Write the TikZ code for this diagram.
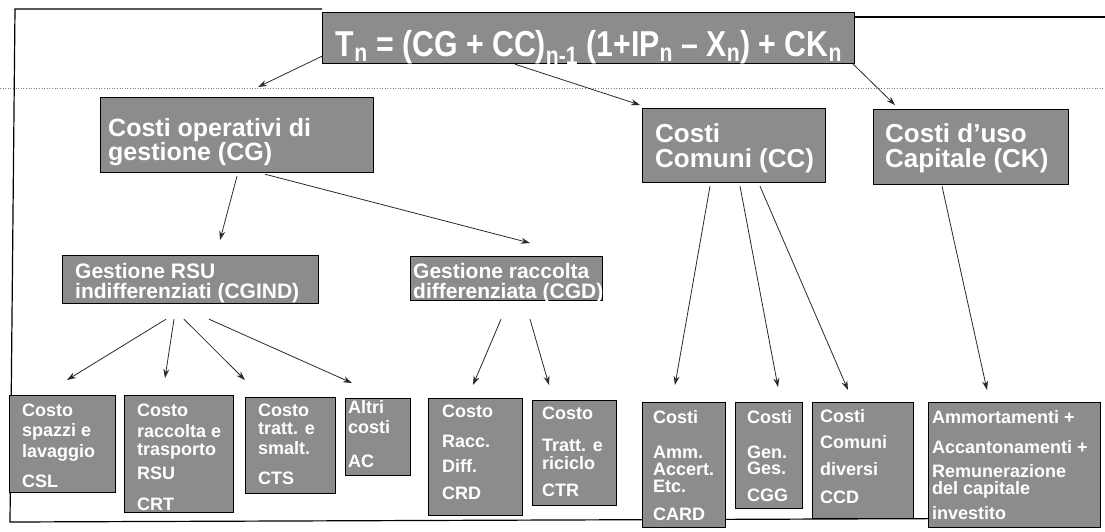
\documentclass[tikz,border=0pt]{standalone}
\usepackage{fontspec}
\setmainfont{Liberation Sans}
\newfontfamily\narrowbold[FakeStretch=0.84]{Liberation Sans Bold}
\usetikzlibrary{calc,arrows.meta}
\definecolor{boxgray}{HTML}{8C8C8C}
\definecolor{linegray}{HTML}{2A2A2A}
\tikzset{
  box/.style={draw=black, line width=1.2pt, fill=boxgray, inner sep=0pt, anchor=north west},
  txt/.style={text=white, inner sep=0pt, anchor=north west, align=left},
  tbig/.style={txt, font=\fontsize{26}{25}\selectfont\bfseries},
  tcg/.style={txt, font=\fontsize{25}{23}\selectfont\bfseries},
  tmid/.style={txt, font=\fontsize{21}{20}\selectfont\bfseries},
  tsmall/.style={txt, font=\fontsize{18}{15}\selectfont\bfseries},
  arr/.style={draw=linegray, line width=0.8pt, -{Stealth[length=9pt,width=6pt]}},
  frame/.style={draw=black, line width=1.2pt},
}
\begin{document}
\begin{tikzpicture}[x=1pt,y=-1pt]
\useasboundingbox (0,0) rectangle (1105,531);
% frame
\draw[gray, line width=0.6pt, dotted] (0,88) -- (1105,88);
\draw[frame] (322,9) -- (15,9) -- (10,522) -- (1100,518);
\draw[frame] (854,17) -- (1105,17);
% boxes
\node[box, minimum width=532pt, minimum height=51pt] (fbox) at (322,12) {};
\node[box, minimum width=273pt, minimum height=75pt] (cg) at (100,97) {};
\node[box, minimum width=183pt, minimum height=74pt] (cc) at (642,108) {};
\node[box, minimum width=195pt, minimum height=75pt] (ck) at (873,109) {};
\node[box, minimum width=256pt, minimum height=48pt] (cgind) at (62,255) {};
\node[box, minimum width=192pt, minimum height=44pt] (cgd) at (410,256) {};
\node[box, minimum width=106pt, minimum height=97pt] (csl) at (9,395) {};
\node[box, minimum width=109pt, minimum height=117pt] (crt) at (124,395) {};
\node[box, minimum width=90pt, minimum height=96pt] (cts) at (245,397) {};
\node[box, minimum width=65pt, minimum height=77pt] (ac) at (345,398) {};
\node[box, minimum width=94pt, minimum height=117pt] (crd) at (428,398) {};
\node[box, minimum width=84pt, minimum height=105pt] (ctr) at (532,400) {};
\node[box, minimum width=83pt, minimum height=125pt] (card) at (642,402) {};
\node[box, minimum width=67pt, minimum height=106pt] (cgg) at (735,402) {};
\node[box, minimum width=101pt, minimum height=116pt] (ccd) at (812,402) {};
\node[box, minimum width=172pt, minimum height=125pt] (cap) at (928,402) {};
% texts
\node[text=white, inner sep=0pt, anchor=base, font=\fontsize{36}{36}\selectfont\narrowbold] (fbox-t) at (589,56)
  {T\textsubscript{n} = (CG + CC)\textsubscript{n-1} (1+IP\textsubscript{n} – X\textsubscript{n}) + CK\textsubscript{n}};
\node[tcg] (cg-t) at (108,118) {Costi operativi di\\gestione (CG)};
\node[tbig] (cc-t) at (655,123) {Costi\\Comuni (CC)};
\node[tbig] (ck-t) at (885,123) {Costi d'uso\\Capitale (CK)};
\node[tmid] (cgind-t) at (75,263) {Gestione RSU\\indifferenziati (CGIND)};
\node[tmid] (cgd-t) at (413,263) {Gestione raccolta\\differenziata (CGD)};
\node[tsmall] (csl-t) at (22,404) {Costo\\[5pt]spazzi e\\[3pt]lavaggio\\[13pt]CSL};
\node[tsmall] (crt-t) at (137,404) {Costo\\[6pt]raccolta e\\[3pt]trasporto\\[6pt]RSU\\[16pt]CRT};
\node[tsmall] (cts-t) at (258,404) {Costo\\[3pt]tratt. e\\[5pt]smalt.\\[15pt]CTS};
\node[tsmall] (ac-t) at (348,400) {Altri\\[5pt]costi\\[19pt]AC};
\node[tsmall] (crd-t) at (442,405) {Costo\\[15pt]Racc.\\[10pt]Diff.\\[12pt]CRD};
\node[tsmall] (ctr-t) at (542,407) {Costo\\[17pt]Tratt. e\\[3pt]riciclo\\[12pt]CTR};
\node[tsmall] (card-t) at (653,410) {Costi\\[20pt]Amm.\\[2pt]Accert.\\[2pt]Etc.\\[13pt]CARD};
\node[tsmall] (cgg-t) at (747,410) {Costi\\[20pt]Gen.\\[1pt]Ges.\\[12pt]CGG};
\node[tsmall] (ccd-t) at (820,409) {Costi\\[11pt]Comuni\\[12pt]diversi\\[13pt]CCD};
\node[tsmall] (cap-t) at (932,410) {Ammortamenti +\\[15pt]Accantonamenti +\\[9pt]Remunerazione\\[2pt]del capitale\\[7pt]investito};
% arrows
\draw[arr] ($(fbox.south west)+(0,-8)$) -- ($(cg.north west)+(158,-10)$);
\draw[arr] ($(fbox.south west)+(193,0)$) -- ($(cc.north west)+(-2,-3)$);
\draw[arr] ($(fbox.south east)+(-2,0)$) -- ($(ck.north west)+(22,-4)$);
\draw[arr] ($(cg.south west)+(137,3)$) -- ($(cgind.north west)+(158,-15)$);
\draw[arr] ($(cg.south west)+(165,1)$) -- ($(cgd.north west)+(120,-13)$);
\draw[arr] ($(cgind.south west)+(104,15)$) -- ($(csl.north west)+(58,-15)$);
\draw[arr] ($(cgind.south west)+(112,15)$) -- ($(crt.north west)+(41,-17)$);
\draw[arr] ($(cgind.south west)+(122,15)$) -- ($(cts.north west)+(0,-17)$);
\draw[arr] ($(cgind.south west)+(147,15)$) -- ($(ac.north west)+(7,-15)$);
\draw[arr] ($(cgd.south west)+(91,18)$) -- ($(crd.north west)+(45,-13)$);
\draw[arr] ($(cgd.south west)+(120,18)$) -- ($(ctr.north west)+(17,-15)$);
\draw[arr] ($(cc.south west)+(68,3)$) -- ($(card.north west)+(33,-17)$);
\draw[arr] ($(cc.south west)+(98,3)$) -- ($(cgg.north west)+(43,-15)$);
\draw[arr] ($(cc.south west)+(118,3)$) -- ($(ccd.north west)+(36,-12)$);
\draw[arr] ($(ck.south west)+(69,1)$) -- ($(cap.north west)+(59,-12)$);
\end{tikzpicture}
\end{document}
